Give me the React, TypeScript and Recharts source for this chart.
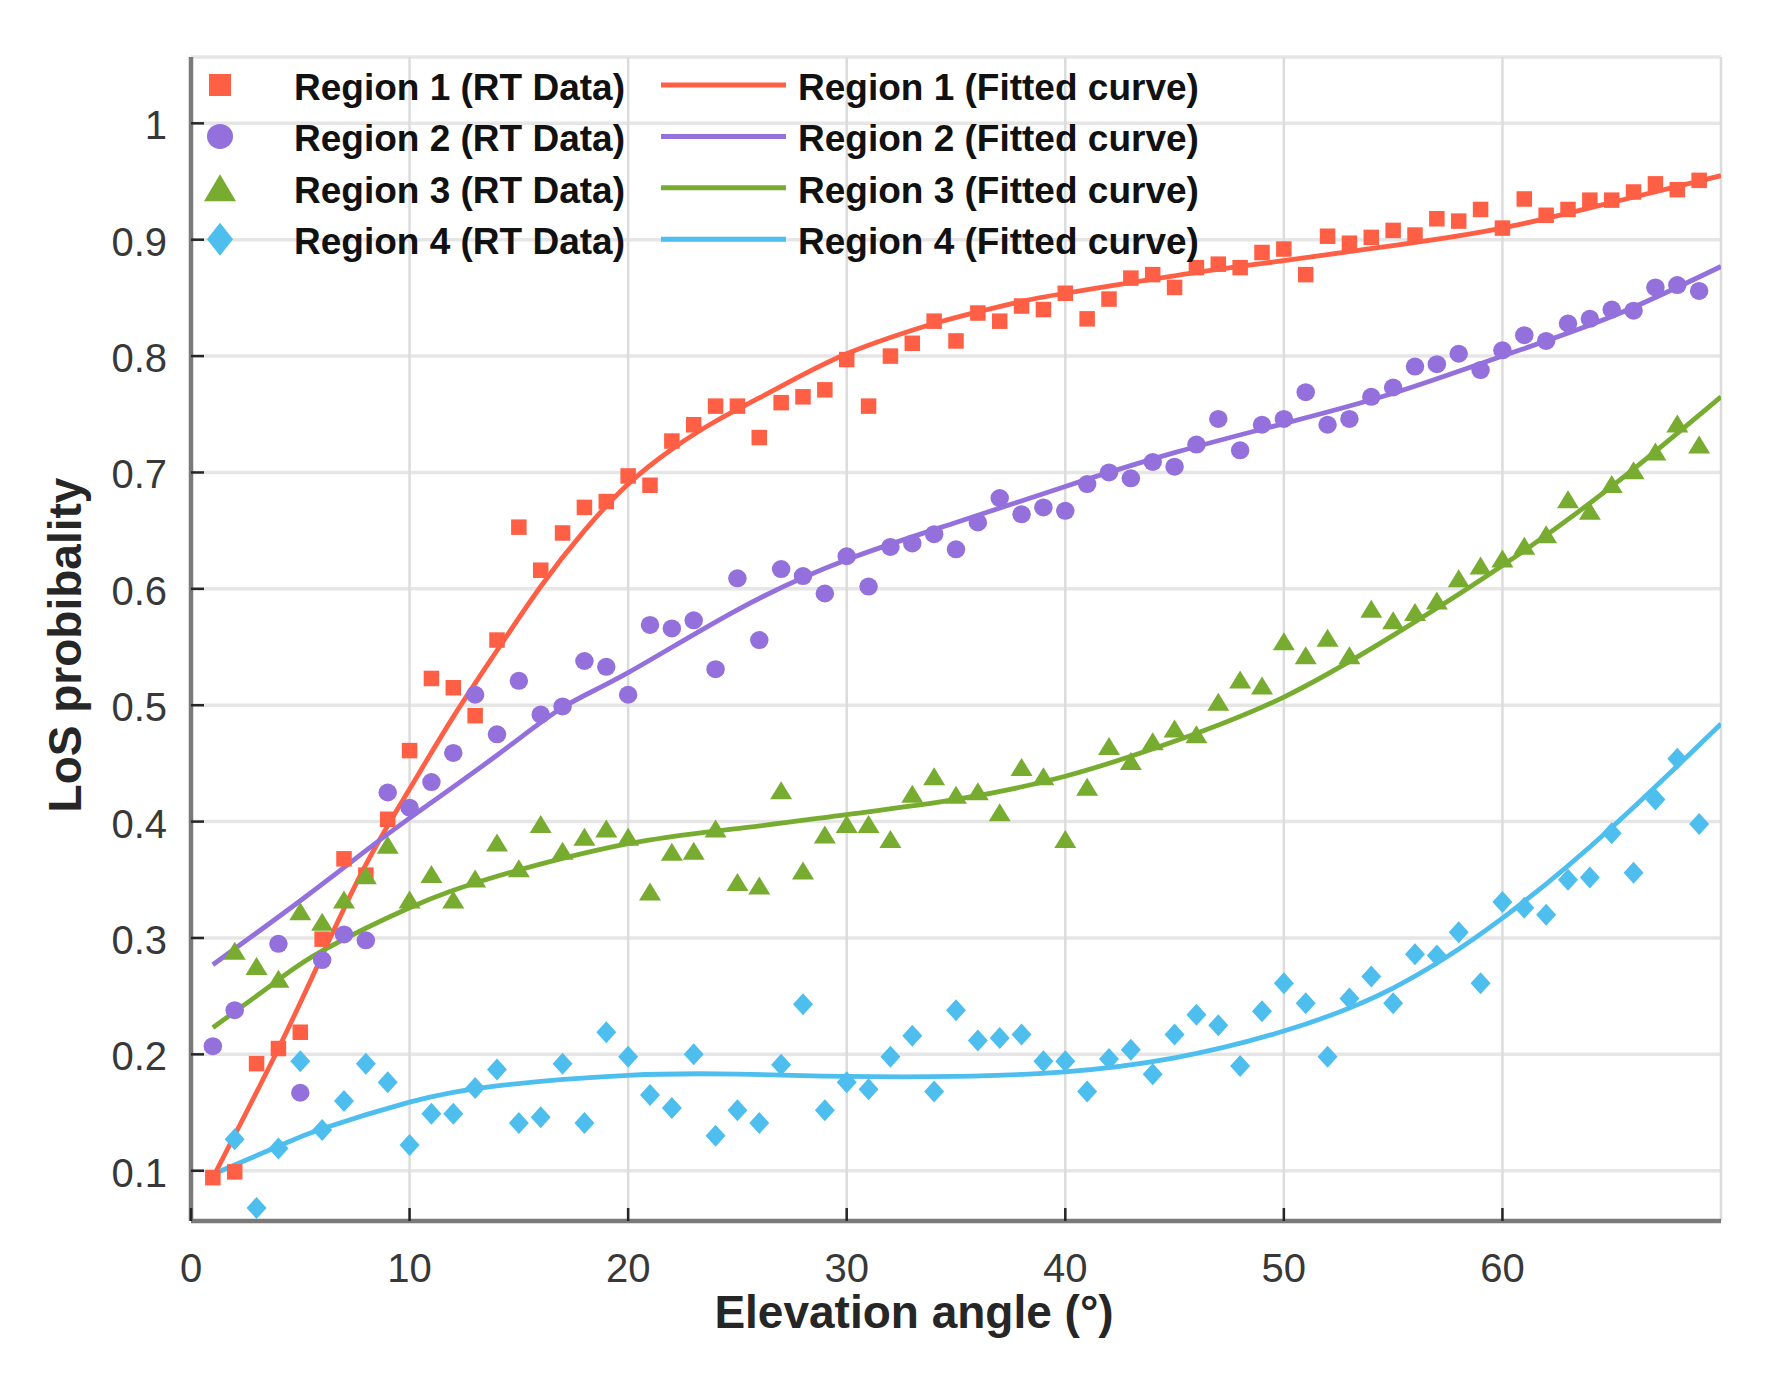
import React from 'react';
import { ComposedChart, Scatter, Line, XAxis, YAxis, CartesianGrid, Legend } from 'recharts';

// ---------- data ----------
const angles = [
  1, 2, 3, 4, 5, 6, 7, 8, 9, 10, 11, 12, 13, 14, 15, 16, 17, 18, 19, 20, 21, 22, 23,
  24, 25, 26, 27, 28, 29, 30, 31, 32, 33, 34, 35, 36, 37, 38, 39, 40, 41, 42, 43, 44,
  45, 46, 47, 48, 49, 50, 51, 52, 53, 54, 55, 56, 57, 58, 59, 60, 61, 62, 63, 64, 65,
  66, 67, 68, 69,
];

const region1 = [
  0.094, 0.099, 0.192, 0.205, 0.219, 0.299, 0.368, 0.354, 0.402, 0.461, 0.523, 0.515, 0.491,
  0.556, 0.653, 0.616, 0.648, 0.670, 0.675, 0.697, 0.689, 0.727, 0.741, 0.757, 0.757, 0.730,
  0.760, 0.765, 0.771, 0.797, 0.757, 0.800, 0.811, 0.830, 0.813, 0.837, 0.830, 0.843, 0.840,
  0.854, 0.832, 0.849, 0.867, 0.870, 0.859, 0.876, 0.879, 0.876, 0.889, 0.892, 0.870, 0.903,
  0.897, 0.902, 0.908, 0.904, 0.918, 0.916, 0.926, 0.910, 0.935, 0.921, 0.926, 0.934, 0.934,
  0.941, 0.948, 0.943, 0.951,
];

const region2 = [
  0.207, 0.238, null, 0.295, 0.167, 0.281, 0.303, 0.298, 0.425, 0.412, 0.434, 0.459, 0.509,
  0.475, 0.521, 0.492, 0.499, 0.538, 0.533, 0.509, 0.569, 0.566, 0.573, 0.531, 0.609, 0.556,
  0.617, 0.611, 0.596, 0.628, 0.602, 0.636, 0.639, 0.647, 0.634, 0.657, 0.678, 0.664, 0.670,
  0.667, 0.690, 0.700, 0.695, 0.709, 0.705, 0.724, 0.746, 0.719, 0.741, 0.746, 0.769, 0.741,
  0.746, 0.765, 0.773, 0.791, 0.793, 0.802, 0.788, 0.805, 0.818, 0.813, 0.828, 0.832, 0.840,
  0.839, 0.859, 0.861, 0.856,
];

const region3 = [
  null, 0.289, 0.276, 0.265, 0.323, 0.314, 0.333, 0.354, 0.380, 0.333, 0.355, 0.333, 0.351,
  0.382, 0.360, 0.398, 0.375, 0.387, 0.394, 0.387, 0.340, 0.374, 0.375, 0.394, 0.348, 0.345,
  0.427, 0.358, 0.389, 0.398, 0.398, 0.385, 0.424, 0.439, 0.423, 0.426, 0.408, 0.447, 0.439,
  0.385, 0.430, 0.465, 0.452, 0.469, 0.480, 0.475, 0.503, 0.522, 0.517, 0.555, 0.543, 0.558,
  0.543, 0.583, 0.573, 0.580, 0.590, 0.609, 0.620, 0.626, 0.637, 0.647, 0.677, 0.667, 0.690,
  0.702, 0.718, 0.742, 0.724,
];

const region4 = [
  null, 0.127, 0.068, 0.119, 0.194, 0.135, 0.160, 0.192, 0.176, 0.122, 0.149, 0.149, 0.171,
  0.187, 0.141, 0.146, 0.192, 0.141, 0.219, 0.198, 0.165, 0.154, 0.200, 0.130, 0.152, 0.141,
  0.191, 0.243, 0.152, 0.176, 0.170, 0.198, 0.216, 0.168, 0.238, 0.212, 0.214, 0.217, 0.194,
  0.194, 0.168, 0.196, 0.204, 0.183, 0.217, 0.234, 0.225, 0.190, 0.237, 0.261, 0.244, 0.198,
  0.248, 0.267, 0.244, 0.286, 0.285, 0.305, 0.261, 0.331, 0.326, 0.320, 0.350, 0.352, 0.390,
  0.356, 0.419, 0.454, 0.398,
];

// fitted curves, read at sample angles
const fitAngles1 = [1, 4, 6, 8, 10, 12, 14, 16, 18, 20, 22, 24, 26, 28, 30, 32, 34, 36, 38, 40, 45, 50, 55, 60, 65, 70];
const fitValues1 = [0.094, 0.205, 0.285, 0.363, 0.428, 0.49, 0.547, 0.602, 0.65, 0.69, 0.72, 0.744, 0.764, 0.784, 0.802, 0.816, 0.828, 0.838, 0.847, 0.854, 0.869, 0.882, 0.895, 0.91, 0.932, 0.955];

const fitAngles2 = [1, 5, 8, 10, 14, 17, 20, 25, 30, 35, 40, 45, 50, 55, 60, 65, 70];
const fitValues2 = [0.277, 0.332, 0.375, 0.403, 0.457, 0.498, 0.528, 0.582, 0.625, 0.657, 0.688, 0.717, 0.742, 0.768, 0.8, 0.834, 0.877];

const fitAngles3 = [1, 4, 6, 10, 14, 20, 25, 30, 35, 40, 45, 50, 55, 60, 65, 70];
const fitValues3 = [0.223, 0.264, 0.289, 0.326, 0.353, 0.381, 0.394, 0.406, 0.419, 0.439, 0.469, 0.507, 0.56, 0.62, 0.688, 0.765];

const fitAngles4 = [1, 4, 6, 10, 14, 20, 25, 30, 35, 40, 45, 50, 55, 60, 65, 70];
const fitValues4 = [0.097, 0.121, 0.136, 0.159, 0.173, 0.182, 0.183, 0.181, 0.181, 0.185, 0.197, 0.22, 0.257, 0.317, 0.395, 0.484];

const xTicks = [0, 10, 20, 30, 40, 50, 60];
const yTicks = [0.1, 0.2, 0.3, 0.4, 0.5, 0.6, 0.7, 0.8, 0.9, 1];
const yTickLabels = ['0.1', '0.2', '0.3', '0.4', '0.5', '0.6', '0.7', '0.8', '0.9', '1'];

const seriesNames = ['Region 1', 'Region 2', 'Region 3', 'Region 4'];
const seriesColors = ['#FF5F45', '#9370DB', '#77AC30', '#4DBEEE'];
const markerKinds = ['square', 'circle', 'triangle', 'diamond'];

// ---------- layout ----------
const W = 1788;
const H = 1376;
const PLOT_LEFT = 191;
const PLOT_RIGHT = 1721;
const PLOT_TOP = 57;
const PLOT_BOTTOM = 1221;
const Y_AXIS_W = 120;
const X_AXIS_H = 100;
const FONT = '"Liberation Sans", Arial, Helvetica, sans-serif';

const toPoints = (xs: number[], ys: (number | null)[]) =>
  xs.map((x, i) => ({ x, y: ys[i] })).filter((p) => p.y !== null && p.y !== undefined);

const scatterData = [
  toPoints(angles, region1),
  toPoints(angles, region2),
  toPoints(angles, region3),
  toPoints(angles, region4),
];
const fitData = [
  toPoints(fitAngles1, fitValues1),
  toPoints(fitAngles2, fitValues2),
  toPoints(fitAngles3, fitValues3),
  toPoints(fitAngles4, fitValues4),
];

// ---------- marker ----------
function MarkerShape({ kind, cx, cy, color, big }: { kind: string; cx: number; cy: number; color: string; big?: boolean }) {
  if (cx == null || cy == null || isNaN(cx) || isNaN(cy)) return null;
  if (kind === 'square') {
    const s = big ? 22 : 15.5;
    return <rect x={cx - s / 2} y={cy - s / 2} width={s} height={s} fill={color} />;
  }
  if (kind === 'circle') {
    const w = big ? 26 : 18.5;
    const h = big ? 25 : 18;
    return <ellipse cx={cx} cy={cy} rx={w / 2} ry={h / 2} fill={color} />;
  }
  if (kind === 'triangle') {
    const w = big ? 32 : 22;
    const h = big ? 27 : 18;
    return (
      <polygon
        points={`${cx},${cy - h / 2} ${cx - w / 2},${cy + h / 2} ${cx + w / 2},${cy + h / 2}`}
        fill={color}
      />
    );
  }
  const w = big ? 26 : 20;
  const h = big ? 33 : 22;
  return (
    <polygon
      points={`${cx},${cy - h / 2} ${cx + w / 2},${cy} ${cx},${cy + h / 2} ${cx - w / 2},${cy}`}
      fill={color}
    />
  );
}

// ---------- ticks ----------
const YTick = (props: any) => {
  const { x, y, payload, index } = props;
  const idx = yTicks.indexOf(payload.value);
  const label = idx >= 0 ? yTickLabels[idx] : String(payload.value);
  return (
    <g key={`yt-${index}`}>
      <line x1={x + 24} x2={x + 24 + 13} y1={y} y2={y} stroke="#262626" strokeWidth={2.5} />
      <text x={x} y={y} dy={16} textAnchor="end" fontSize={40} fontFamily={FONT} fill="#383838">
        {label}
      </text>
    </g>
  );
};

const XTick = (props: any) => {
  const { x, y, payload, index } = props;
  return (
    <g key={`xt-${index}`}>
      <line x1={x} x2={x} y1={y} y2={y - 13} stroke="#262626" strokeWidth={2.5} />
      <text x={x} y={y + 61} textAnchor="middle" fontSize={40} fontFamily={FONT} fill="#383838">
        {payload.value}
      </text>
    </g>
  );
};

const YTitle = () => {
  const cx = 81;
  const cy = 645;
  return (
    <text
      x={cx}
      y={cy}
      transform={`rotate(-90, ${cx}, ${cy})`}
      textAnchor="middle"
      fontSize={46}
      fontWeight="bold"
      fontFamily={FONT}
      fill="#262626"
    >
      LoS probibality
    </text>
  );
};

const XTitle = () => (
  <text x={914} y={1328} textAnchor="middle" fontSize={46} fontWeight="bold" fontFamily={FONT} fill="#262626">
    Elevation angle (°)
  </text>
);

// ---------- legend ----------
const LegendBox = () => (
  <svg width={W} height={300} style={{ display: 'block', overflow: 'visible' }}>
    {seriesNames.map((name, i) => {
      const base = 100 + i * 51.4;
      const my = base - 15;
      return (
        <g key={name}>
          <MarkerShape kind={markerKinds[i]} cx={220} cy={my} color={seriesColors[i]} big />
          <text x={294} y={base} fontSize={37} fontWeight="bold" fontFamily={FONT} fill="#111111">
            {`${name} (RT Data)`}
          </text>
          <line x1={661} x2={786} y1={my} y2={my} stroke={seriesColors[i]} strokeWidth={5} />
          <text x={798} y={base} fontSize={37} fontWeight="bold" fontFamily={FONT} fill="#111111">
            {`${name} (Fitted curve)`}
          </text>
        </g>
      );
    })}
  </svg>
);

const hLine = (p: any) => (
  <line key={`h-${p.index}`} x1={p.x1} x2={p.x2} y1={p.y1} y2={p.y2} stroke="#e6e6e6" strokeWidth={3.5} />
);
const vLine = (p: any) => (
  <line key={`v-${p.index}`} x1={p.x1} x2={p.x2} y1={p.y1} y2={p.y2} stroke="#dcdcdc" strokeWidth={2.5} />
);

export default function App() {
  return (
    <div style={{ position: 'absolute', left: 0, top: 0, width: W, height: H, background: '#ffffff' }}>
      <ComposedChart
        width={W}
        height={H}
        margin={{
          top: PLOT_TOP,
          right: W - PLOT_RIGHT,
          bottom: H - PLOT_BOTTOM - X_AXIS_H,
          left: PLOT_LEFT - Y_AXIS_W,
        }}
      >
        <CartesianGrid horizontal={hLine} vertical={vLine} />
        <XAxis
          type="number"
          dataKey="x"
          domain={[0, 70]}
          ticks={xTicks}
          allowDataOverflow
          height={X_AXIS_H}
          tickSize={0}
          tickMargin={0}
          tickLine={false}
          tick={<XTick />}
          axisLine={{ stroke: '#7a7a7a', strokeWidth: 4.5 }}
          label={{ content: XTitle }}
        />
        <YAxis
          type="number"
          dataKey="y"
          domain={[0.0568, 1.057]}
          ticks={yTicks}
          allowDataOverflow
          width={Y_AXIS_W}
          tickSize={0}
          tickMargin={24}
          tickLine={false}
          tick={<YTick />}
          axisLine={{ stroke: '#7a7a7a', strokeWidth: 4.5 }}
          label={{ content: YTitle }}
        />
        {scatterData.map((d, i) => (
          <Scatter
            key={`s${i}`}
            name={`${seriesNames[i]} (RT Data)`}
            data={d}
            fill={seriesColors[i]}
            isAnimationActive={false}
            shape={(p: any) => <MarkerShape kind={markerKinds[i]} cx={p.cx} cy={p.cy} color={seriesColors[i]} />}
          />
        ))}
        {fitData.map((d, i) => (
          <Line
            key={`l${i}`}
            name={`${seriesNames[i]} (Fitted curve)`}
            data={d}
            dataKey="y"
            type="natural"
            stroke={seriesColors[i]}
            strokeWidth={4.8}
            dot={false}
            activeDot={false}
            isAnimationActive={false}
          />
        ))}
        <Legend
          verticalAlign="middle"
          align="center"
          layout="horizontal"
          content={LegendBox}
          wrapperStyle={{ position: 'absolute', left: 0, top: 0, width: W, height: 300, margin: 0, padding: 0 }}
        />
      </ComposedChart>
    </div>
  );
}
